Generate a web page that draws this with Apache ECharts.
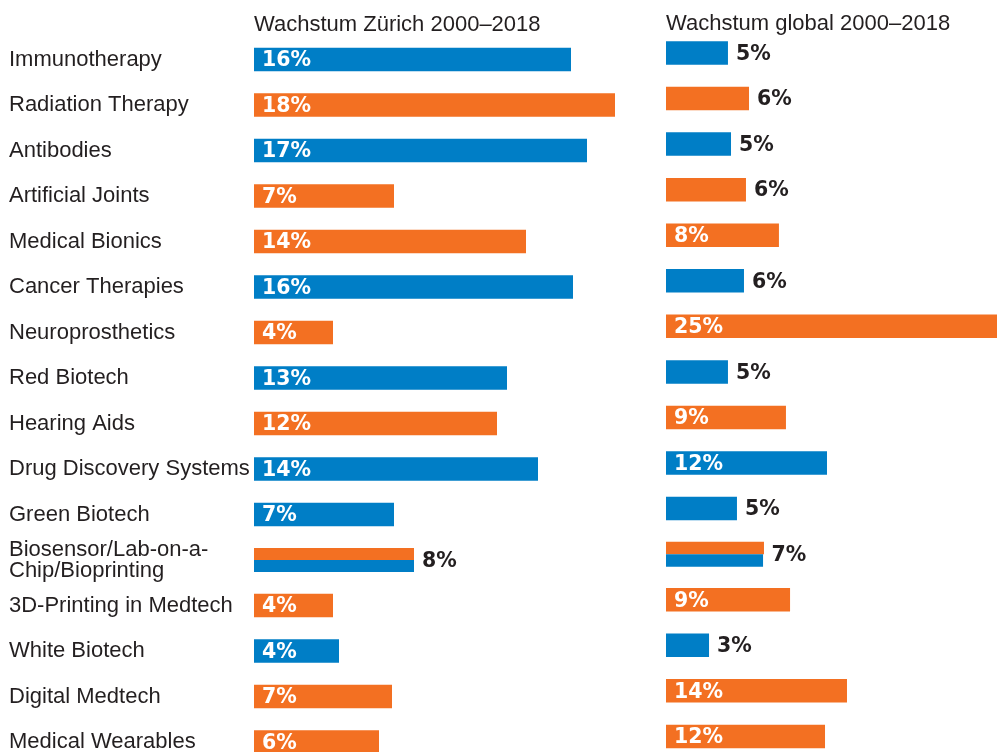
<!DOCTYPE html>
<html>
<head>
<meta charset="utf-8">
<script src="https://cdn.jsdelivr.net/npm/echarts@6/dist/echarts.min.js"></script>
<style>
html,body{margin:0;padding:0;background:#fff;}
#chart{width:997px;height:752px;}
</style>
</head>
<body>
<div id="chart"></div>
<script>
// ---- data ----
const categories = [
  'Immunotherapy', 'Radiation Therapy', 'Antibodies', 'Artificial Joints',
  'Medical Bionics', 'Cancer Therapies', 'Neuroprosthetics', 'Red Biotech',
  'Hearing Aids', 'Drug Discovery Systems', 'Green Biotech',
  'Biosensor/Lab-on-a-\nChip/Bioprinting', '3D-Printing in Medtech',
  'White Biotech', 'Digital Medtech', 'Medical Wearables'
];
// B = biotech (blue), M = medtech (orange), S = split (both)
const groups = ['B','M','B','M','M','B','M','B','M','B','B','S','M','B','M','M'];
const zurichValues = [15.85, 18.05, 16.65, 7.0, 13.6, 15.95, 3.95, 12.65, 12.15, 14.2, 7.0, 8.0, 3.95, 4.25, 6.9, 6.25];
const zurichLabels = [16, 18, 17, 7, 14, 16, 4, 13, 12, 14, 7, 8, 4, 4, 7, 6];
const globalValues = [4.68, 6.27, 4.91, 6.04, 8.53, 5.89, 25, 4.68, 9.06, 12.16, 5.36, 7.36, 9.37, 3.25, 13.67, 12.01];
const globalLabels = [5, 6, 5, 6, 8, 6, 25, 5, 9, 12, 5, 7, 9, 3, 14, 12];
// split row halves: [medtech (orange), biotech (blue)]
const zurichSplit = [8.0, 8.0];
const globalSplit = [7.4, 7.33];
const titles = ['Wachstum Zürich 2000\u20132018', 'Wachstum global 2000\u20132018'];

// ---- styles ----
const BLUE = '#007ec6';
const ORANGE = '#f37022';
const DARK = '#231f20';
const VALUE_FONT = {fontFamily: 'DejaVu Sans', fontWeight: 'bold', fontSize: 20.5, offset: [0, 1.5]};

function mainData(values, labels, outsideRule) {
  return values.map((v, i) => {
    const g = groups[i];
    const outside = g === 'S' || outsideRule(labels[i]);
    return {
      value: v,
      itemStyle: {color: g === 'S' ? 'rgba(0,0,0,0)' : (g === 'B' ? BLUE : ORANGE)},
      label: outside
        ? Object.assign({show: true, position: 'right', distance: 8, color: DARK}, VALUE_FONT)
        : Object.assign({show: true, position: 'insideLeft', distance: 8, color: '#fff'}, VALUE_FONT)
    };
  });
}
function splitData(val) {
  return groups.map(g => g === 'S' ? val : null);
}

const catAxisBase = {
  type: 'category', data: categories, inverse: true,
  axisLine: {show: false}, axisTick: {show: false}, splitLine: {show: false}
};

const zData = mainData(zurichValues, zurichLabels, () => false);
const gData = mainData(globalValues, globalLabels, l => l < 8);

const TITLE_STYLE = {fontFamily: 'Liberation Sans', fontWeight: 'normal', fontSize: 22, color: DARK};

const option = {
  animation: false,
  backgroundColor: '#fff',
  title: [
    {text: titles[0], left: 254, top: 14, padding: 0, textStyle: TITLE_STYLE},
    {text: titles[1], left: 666, top: 13, padding: 0, textStyle: TITLE_STYLE}
  ],
  grid: [
    {left: 254, top: 36.75, width: 400, height: 728, outerBoundsMode: 'none', containLabel: false},
    {left: 666, top: 30.2, width: 331, height: 729, outerBoundsMode: 'none', containLabel: false}
  ],
  xAxis: [
    {type: 'value', gridIndex: 0, min: 0, max: 20, show: false},
    {type: 'value', gridIndex: 1, min: 0, max: 25, show: false}
  ],
  yAxis: [
    Object.assign({}, catAxisBase, {gridIndex: 0,
      axisLabel: {show: true, align: 'left', margin: 245, fontFamily: 'Liberation Sans',
        fontSize: 22, color: DARK, lineHeight: 21, padding: [2, 0, 0, 0]}}),
    Object.assign({}, catAxisBase, {gridIndex: 0, axisLabel: {show: false}}),
    Object.assign({}, catAxisBase, {gridIndex: 1, axisLabel: {show: false}}),
    Object.assign({}, catAxisBase, {gridIndex: 1, axisLabel: {show: false}})
  ],
  series: [
    {type: 'bar', xAxisIndex: 0, yAxisIndex: 0, barWidth: 23.5, silent: true,
     data: zData, label: {formatter: p => zurichLabels[p.dataIndex] + '%'}},
    {type: 'bar', xAxisIndex: 0, yAxisIndex: 1, barWidth: 12, barGap: 0, silent: true,
     itemStyle: {color: ORANGE}, data: splitData(zurichSplit[0])},
    {type: 'bar', xAxisIndex: 0, yAxisIndex: 1, barWidth: 12, barGap: 0, silent: true,
     itemStyle: {color: BLUE}, data: splitData(zurichSplit[1])},
    {type: 'bar', xAxisIndex: 1, yAxisIndex: 2, barWidth: 23.5, silent: true,
     data: gData, label: {formatter: p => globalLabels[p.dataIndex] + '%'}},
    {type: 'bar', xAxisIndex: 1, yAxisIndex: 3, barWidth: 12.5, barGap: 0, silent: true,
     itemStyle: {color: ORANGE}, data: splitData(globalSplit[0])},
    {type: 'bar', xAxisIndex: 1, yAxisIndex: 3, barWidth: 12.5, barGap: 0, silent: true,
     itemStyle: {color: BLUE}, data: splitData(globalSplit[1])}
  ]
};

const chart = echarts.init(document.getElementById('chart'), null, {renderer: 'canvas'});
chart.setOption(option);
</script>
</body>
</html>
